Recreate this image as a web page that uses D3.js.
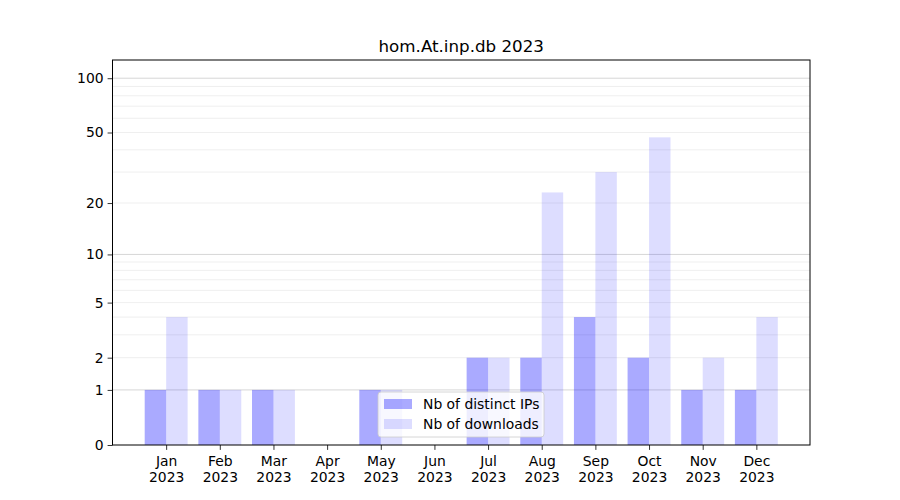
<!DOCTYPE html>
<html><head><meta charset="utf-8">
<script src="https://cdn.jsdelivr.net/npm/d3@7"></script>
<style>body{margin:0;background:#fff}svg{display:block;font-family:"DejaVu Sans",sans-serif}</style>
</head><body><svg id="c" width="900" height="500"></svg>
<script>
const months = ["Jan","Feb","Mar","Apr","May","Jun","Jul","Aug","Sep","Oct","Nov","Dec"];
const year = "2023";
const ips = [1,1,1,0,1,0,2,2,4,2,1,1];
const downloads = [4,1,1,0,1,0,2,23,30,47,2,4];
const yMajor = [0,1,10,100];
const yLabeled = [0,1,2,5,10,20,50,100];
const yMinor = [2,3,4,5,6,7,8,9,20,30,40,50,60,70,80,90];
const seriesNames = ["Nb of distinct IPs","Nb of downloads"];
const title = "hom.At.inp.db 2023";
const yMax = 126;

const W=900,H=500,L=112.5,R=810,T=60,B=445;
const svg = d3.select("#c");
const f = v => Math.log10(1+v);
const y0 = d3.scaleLinear().domain([0,f(yMax)]).range([B,T]);
const y = v => y0(f(v));
const x = d3.scaleLinear().domain([-1,12]).range([L,R]);

// grid
const g = svg.append("g");
g.selectAll("line.mi").data(yMinor).join("line")
  .attr("x1",L).attr("x2",R).attr("y1",d=>y(d)).attr("y2",d=>y(d))
  .attr("stroke","#ebebeb").attr("stroke-width",0.8);
g.selectAll("line.ma").data(yMajor.filter(d=>d>0)).join("line")
  .attr("x1",L).attr("x2",R).attr("y1",d=>y(d)).attr("y2",d=>y(d))
  .attr("stroke","#cccccc").attr("stroke-width",0.8);

// bars
const bars = svg.append("g");
bars.selectAll("rect.ip").data(ips).join("rect")
  .attr("x",(d,i)=>x(i-0.4)).attr("width",(d,i)=>x(i)-x(i-0.4))
  .attr("y",d=>y(d)).attr("height",d=>B-y(d))
  .attr("fill","#0000ff").attr("fill-opacity",0.333);
bars.selectAll("rect.dl").data(downloads).join("rect")
  .attr("x",(d,i)=>x(i)).attr("width",(d,i)=>x(i+0.4)-x(i))
  .attr("y",d=>y(d)).attr("height",d=>B-y(d))
  .attr("fill","#0000ff").attr("fill-opacity",0.133);

// axes
const ya = svg.append("g").attr("transform",`translate(${L},0)`)
  .call(d3.axisLeft(y0).tickValues(yLabeled.map(f)).tickFormat((d,i)=>yLabeled[i]).tickSize(4.9).tickPadding(4));
ya.select(".domain").remove();
const xa = svg.append("g").attr("transform",`translate(0,${B})`)
  .call(d3.axisBottom(x).tickValues(d3.range(12)).tickFormat("").tickSize(4.9));
xa.select(".domain").remove();
svg.selectAll(".tick line").attr("stroke","#000").attr("stroke-width",0.8);
ya.selectAll("text").attr("font-size",13.9).attr("fill","#000").attr("font-family","DejaVu Sans");
xa.selectAll(".tick").append("text").attr("fill","#000").attr("font-size",13.9)
  .attr("text-anchor","middle").attr("font-family","DejaVu Sans")
  .selectAll("tspan").data((d)=>[months[d],year]).join("tspan")
  .attr("x",0).attr("y",(d,i)=>21+i*16).text(d=>d);

// frame
svg.append("rect").attr("x",L).attr("y",T).attr("width",R-L).attr("height",B-T)
  .attr("fill","none").attr("stroke","#000").attr("stroke-width",1);

// title
svg.append("text").attr("x",(L+R)/2).attr("y",52).attr("text-anchor","middle")
  .attr("font-size",16.7).attr("fill","#000").text(title);

// legend
const lg = svg.append("g").attr("transform","translate(378,392)");
lg.append("rect").attr("width",166).attr("height",45).attr("rx",3)
  .attr("fill","#fff").attr("fill-opacity",0.8).attr("stroke","#cccccc").attr("stroke-width",0.8);
const items = lg.selectAll("g").data(seriesNames).join("g")
  .attr("transform",(d,i)=>`translate(6,${7+i*20})`);
items.append("rect").attr("width",28).attr("height",10)
  .attr("fill","#0000ff").attr("fill-opacity",(d,i)=>i?0.133:0.333);
items.append("text").attr("x",39).attr("y",10).attr("font-size",13.9).attr("fill","#000").text(d=>d);
</script></body></html>
